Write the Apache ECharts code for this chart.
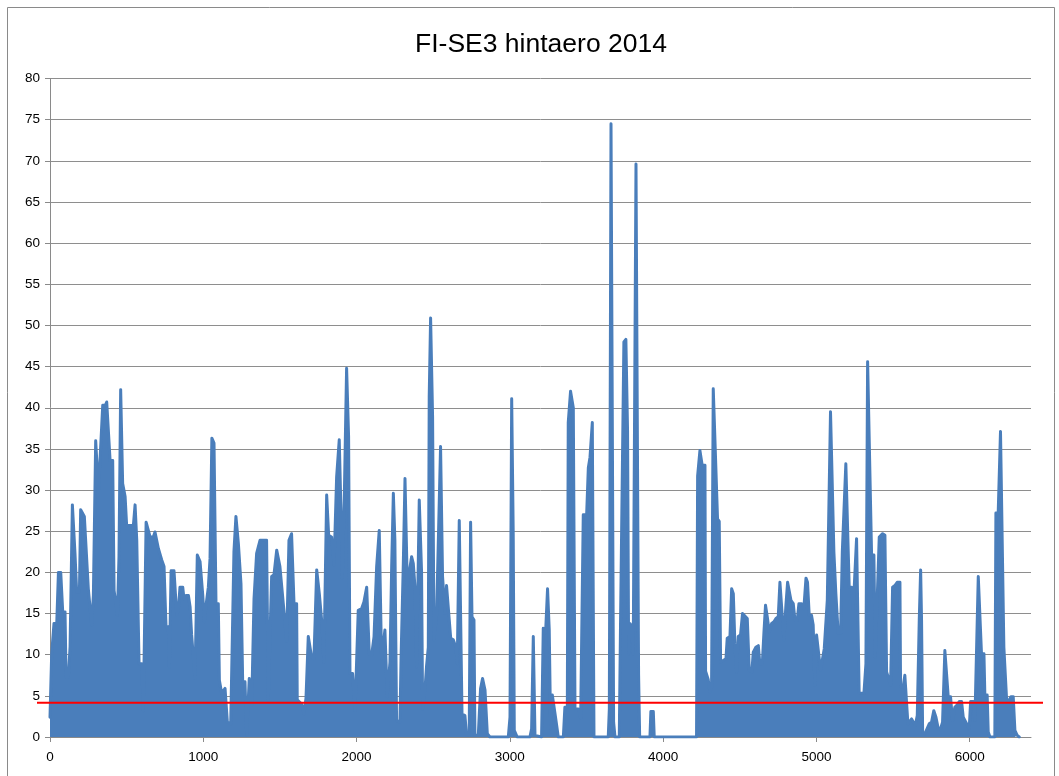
<!DOCTYPE html>
<html>
<head>
<meta charset="utf-8">
<script src="https://cdn.jsdelivr.net/npm/echarts@6/dist/echarts.min.js"></script>
<style>
html,body{margin:0;padding:0;background:#fff;}
#c{width:1059px;height:776px;}
</style>
</head>
<body>
<div id="c"></div>
<script>
// Hour index (x) of each envelope point
const hours = [
0,11,26,44,55,70,83,98,105,120,131,146,163,174,192,200,213,224,235,250,261,272,283,298,316,344,361,370,383,392,409,418,431,440,450,461,474,490,500,544,555,566,581,598,609,627,635,653,674,685,707,729,744,757,772,779,790,809,827,837,848,866,874,887,903,914,924,935,946,961,979,996,1007,1018,1033,1044,1056,1070,1083,1098,
1105,1120,1142,1157,1179,1200,1213,1229,1246,1257,1272,1283,1300,1316,1331,1348,1370,1413,1424,1446,1461,1479,1500,1522,1544,1559,1576,1592,1609,1613,1642,1657,1670,1685,1707,1722,1740,1757,1774,1787,1805,1818,1837,1853,1870,1887,1898,1907,1920,1935,1948,1957,1974,1990,2011,2033,2048,2066,2083,2098,2114,2131,2148,
2163,2185,2200,2218,2229,2240,2250,2261,2283,2290,2305,2316,2331,2344,2359,2370,2381,2392,2409,2424,2431,2446,2457,2468,2474,2483,2496,2505,2522,2533,2548,2561,2577,2587,2598,2614,2631,2648,2657,2670,2681,2688,2707,2718,2735,2744,2753,2766,2772,2794,2809,2822,2838,2853,2870,2990,3001,3012,3022,3029,3040,3048,3131,3142,3153,3164,3207,3218,3233,3246,3257,3266,3277,3288,3298,3316,
3349,3359,3375,3381,3396,3414,3425,3446,3462,3475,3479,3501,3512,3523,3538,3549,3642,3649,3660,3670,3677,3686,3714,3723,3736,3744,3757,3768,3775,3783,3794,3805,3816,3823,3831,3840,3847,3914,3920,3936,3942,4218,4225,4240,4255,4273,4277,4294,4305,4316,4327,4340,4355,4366,4375,4392,4410,4418,4436,
4447,4458,4468,4479,4490,4505,4518,4527,4549,4562,4579,4588,4605,4621,4631,4647,4658,4668,4681,4692,4708,4723,4736,4751,4762,4775,4788,4801,4812,4823,4834,4849,4860,4875,4886,4903,4918,4932,4942,4953,4968,4979,4990,5001,5014,5027,5040,5051,5062,5071,5084,5092,5105,5114,5127,5142,5158,5169,5179,5192,5201,5214,5229,5240,5251,5262,5273,5279,5310,5323,5334,5347,5360,5375,5384,5397,5410,5432,5447,5458,5469,5484,5497,5512,5527,5545,
5549,5566,5577,5588,5597,5610,5621,5632,5645,5658,5671,5680,5686,5693,5708,5719,5736,5751,5766,5780,5795,5810,5823,5838,5849,5860,5875,5888,5903,5919,5932,5947,5958,5975,5986,5997,6006,6023,6034,6045,6056,6067,6077,6093,6099,6114,6121,6132,6164,6171,6186,6201,6214,6223,6232,6241,6258,6269,6284,6295,6310,6323
];
// Price difference (EUR/MWh) at each point
const prices = [
2.4,10.1,13.8,13.8,20,20,15.2,15.2,7.3,7.3,11,28.2,22.3,17.6,17.6,27.6,27.6,26.8,26.8,18,18,13.6,17.2,36,29.8,40.3,40.3,40.7,40.7,33.6,33.6,17.8,17.8,14.8,21.9,42.2,30.8,29.2,25.7,25.7,28.2,23.9,8.9,8.9,3.2,26.1,26.1,24.3,24.3,24.9,22.9,21.5,20.7,13.4,13.4,8.5,20.2,20.2,14.8,15.4,18.2,18.2,16.8,17.2,17.2,15.8,12.4,12.4,7.1,22.1,21.3,17.4,14,16,18.2,21.7,36.3,35.7,16.2,16.2,
6.9,5.3,5.9,1.8,1.6,22.5,26.8,23.5,18.6,6.7,6.7,0.2,7.1,3.9,16.8,22.3,23.9,23.9,4.5,19.5,19.7,22.7,20.7,16.2,11.6,23.9,24.7,16.2,16.2,4.5,4,2.8,4.7,12.2,9.7,9.5,20.3,17.4,13.8,9.1,29.4,24.5,24.3,20.9,31.6,36.1,27.6,19.3,29,44.8,36.5,7.7,7.7,3.2,15.4,15.6,16.4,18.2,10.1,9.9,12.2,20.7,25.1,
9.5,13,4.9,9.1,20.7,29.6,23.9,2,1.8,9.3,21.1,31.4,18.4,18.4,21.9,21.1,18.2,8.5,28.8,20.1,3.4,5.7,8.7,10.9,41.3,50.9,38.9,11.8,14.8,15,35.3,19.5,15,18.4,15.8,12,11.8,10.9,8.9,26.3,26.1,2.8,2.6,0.2,0.2,26.1,14.6,14.2,0.2,0.2,5.9,7.1,5.7,0.4,0,0,2.4,41.1,24.7,0.8,0.6,0,0,1,12.2,0.2,0,13.2,12.6,18,13,1,5.1,4.9,2.4,0,
0,3.6,3.6,38.2,42,40,3.4,3.4,2.3,2.3,27,27,32.7,34,38.2,0,0,3.4,74.5,74.5,1.8,0,0,15.3,15.3,48,48.3,37.1,10.1,13.8,13.5,10.1,10.1,69.6,69.6,7.5,0,0,3.1,3.1,0,0,31.7,34.8,33,33,8,7,5.5,6,42.3,42.3,26.5,26.2,9.1,9.3,9.5,12,12.2,
18,17.4,11.4,7.9,12.2,12.4,15,14.8,14.4,8.1,7.9,10.3,10.9,11.1,8.9,8.9,12.8,16,14.4,12.8,13.8,14,14.4,14.6,18.8,18.8,11.8,16,18.8,18.8,16.6,16.2,14.2,14.2,16.2,16.2,15.6,19.3,18.8,14.8,14.8,13.6,6.3,12.4,12.2,8.1,8.1,10.7,10.9,16.6,16.6,39.5,39.5,22.5,17.4,12.6,12.6,22.5,22.5,33.2,33.2,18.2,18.2,15.6,15.6,24.1,24.1,5.3,5.3,8.9,45.6,45.6,22.1,22.1,9.7,9.7,24.3,24.7,24.5,7.9,7.9,6.3,18.2,18.4,18.8,18.8,
6.1,6.1,7.5,7.5,1.6,1.6,2.2,2.2,1.4,2.6,14.2,20.3,14.2,0.6,0.4,0.6,1.6,1.8,3.2,2.4,1,1,1.8,10.5,10.5,4.9,4.9,2,3.6,3.9,4.3,4.3,2.4,1.8,1.6,1,4.3,4.3,2,2,19.5,19.5,10.1,10.1,5.1,5.1,0.6,0,0,27.2,27.2,37.1,37.1,10.9,10.9,4.5,4.5,4.9,4.9,0.8,0.2,0
];
const refLevel = 4.15;              // red reference line
const yTicks = {min: 0, max: 80, step: 5};
const xTicks = [0, 1000, 2000, 3000, 4000, 5000, 6000];
const xMax = 6400;
const titleText = 'FI-SE3 hintaero 2014';

const seriesData = hours.map((h, i) => [h, prices[i]]);
const font = "'Liberation Sans', Arial, sans-serif";
const blue = '#4a7ebb';
const grey = '#8a8a8a';

const chart = echarts.init(document.getElementById('c'), null, {renderer: 'canvas'});
chart.setOption({
  animation: false,
  backgroundColor: '#ffffff',
  title: {
    text: titleText, left: 536, top: 26, textAlign: 'center',
    textStyle: {fontFamily: font, fontSize: 26.5, fontWeight: 'normal', color: '#000'}
  },
  graphic: [{
    type: 'rect', shape: {x: 7.5, y: 7.5, width: 1047, height: 775},
    style: {fill: null, stroke: '#8a8a8a', lineWidth: 1}, silent: true, z: -1
  }],
  grid: [
    {left: 50, right: 28, top: 78.5, bottom: 39},
    {left: 37, right: 16, top: 78.5, bottom: 39}
  ],
  xAxis: [{
    type: 'value', gridIndex: 0, min: 0, max: xMax, interval: 1000,
    axisLine: {show: true, lineStyle: {color: grey, width: 1}},
    axisTick: {show: true, inside: false, length: 5, lineStyle: {color: grey}, customValues: xTicks},
    axisLabel: {color: '#000', fontFamily: font, fontSize: 13.5, margin: 13, customValues: xTicks,
      formatter: v => String(v)},
    splitLine: {show: false}
  }, {
    type: 'value', gridIndex: 1, min: 0, max: 1, show: false
  }],
  yAxis: [{
    type: 'value', gridIndex: 0, min: yTicks.min, max: yTicks.max, interval: yTicks.step,
    axisLine: {show: true, lineStyle: {color: grey, width: 1}},
    axisTick: {show: true, inside: false, length: 5, lineStyle: {color: grey}},
    axisLabel: {color: '#000', fontFamily: font, fontSize: 13.5, margin: 10},
    splitLine: {show: true, lineStyle: {color: '#8e8e8e', width: 1}}
  }, {
    type: 'value', gridIndex: 1, min: yTicks.min, max: yTicks.max, show: false
  }],
  series: [{
    type: 'line', xAxisIndex: 0, yAxisIndex: 0, data: seriesData,
    showSymbol: false, symbol: 'none', sampling: null, smooth: false,
    lineStyle: {color: blue, width: 3, join: 'round', cap: 'round'},
    areaStyle: {color: blue, opacity: 1},
    itemStyle: {color: blue}, z: 2
  }, {
    type: 'line', xAxisIndex: 1, yAxisIndex: 1,
    data: [[0, refLevel], [1, refLevel]],
    showSymbol: false, symbol: 'none',
    lineStyle: {color: '#ff0000', width: 2}, z: 3
  }]
});
</script>
</body>
</html>
